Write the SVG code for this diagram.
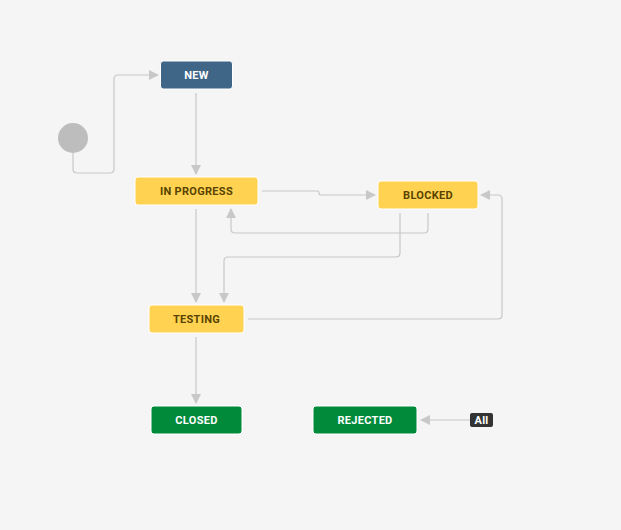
<svg xmlns="http://www.w3.org/2000/svg" width="621" height="530" viewBox="0 0 621 530">
<style>
.n rect{rx:3px}
.t{font-family:Roboto,"Liberation Sans",sans-serif;font-size:11px;font-weight:bold;text-anchor:middle;letter-spacing:0.3px}
.w{fill:#fff}.d{fill:#594300}
.y{fill:#ffd351}
.g{fill:#008a3a}
.c path{fill:none;stroke:#c8c8c8;stroke-width:1.2}
</style>
<defs><marker id="a" viewBox="0 0 10 10" refX="9" refY="5" markerWidth="10" markerHeight="10" markerUnits="userSpaceOnUse" orient="auto"><path d="M0,0L10,5L0,10z" fill="#c8c8c8"/></marker></defs>
<rect width="621" height="530" fill="#f5f5f5"/>
<g class="c">
<path d="M73,153V169Q73,173 77,173H110Q114,173 114,169V79Q114,75 118,75H158" marker-end="url(#a)"/>
<path d="M196,93V174" marker-end="url(#a)"/>
<path d="M262,191H318Q319,191 319,193Q319,195 321,195H375" marker-end="url(#a)"/>
<path d="M428,213V229Q428,233 424,233H235Q231,233 231,229V209" marker-end="url(#a)"/>
<path d="M400,213V253Q400,257 396,257H228Q224,257 224,261V302" marker-end="url(#a)"/>
<path d="M196,209V302" marker-end="url(#a)"/>
<path d="M248,319H498Q502,319 502,315V199Q502,195 498,195H481" marker-end="url(#a)"/>
<path d="M196,337V403" marker-end="url(#a)"/>
<path d="M470,420H421" marker-end="url(#a)"/>
</g>
<circle id="start" cx="73" cy="138" r="15" fill="#bdbdbd"/>
<g id="new" class="n"><rect x="160.5" y="61" width="72" height="28" fill="#3f6587" stroke="#fff" stroke-width="1"/><text class="t w" x="196.5" y="79">NEW</text></g>
<g id="inprogress" class="n"><rect x="135" y="177" width="123" height="28" class="y" stroke="#fff"/><text class="t d" x="196.5" y="195">IN PROGRESS</text></g>
<g id="blocked" class="n"><rect x="378" y="181" width="100" height="28" class="y" stroke="#fff"/><text class="t d" x="428" y="199">BLOCKED</text></g>
<g id="testing" class="n"><rect x="149" y="305" width="95" height="28" class="y" stroke="#fff"/><text class="t d" x="196.5" y="323">TESTING</text></g>
<g id="closed" class="n"><rect x="151" y="406" width="91" height="28" class="g" stroke="#fff"/><text class="t w" x="196.5" y="424">CLOSED</text></g>
<g id="rejected" class="n"><rect x="313" y="406" width="104" height="28" class="g" stroke="#fff"/><text class="t w" x="365" y="424">REJECTED</text></g>
<g id="all"><rect x="470" y="413" width="23" height="14" rx="2" fill="#333"/><text class="t w" x="481.5" y="424">All</text></g>
</svg>
